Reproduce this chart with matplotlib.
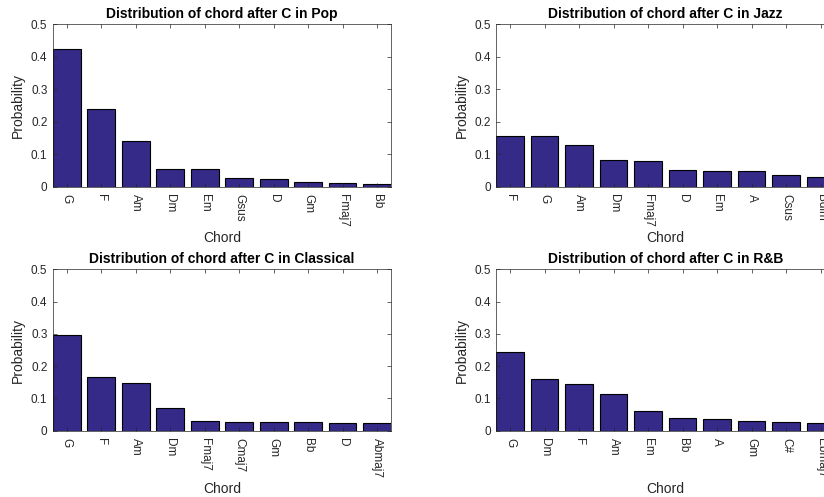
import numpy as np
import matplotlib.pyplot as plt
from matplotlib.ticker import FuncFormatter

plt.rcParams['font.family'] = ['Liberation Sans', 'DejaVu Sans']

pop_chords = ['G', 'F', 'Am', 'Dm', 'Em', 'Gsus', 'D', 'Gm', 'Fmaj7', 'Bb']
pop_probs = [0.424, 0.238, 0.140, 0.056, 0.053, 0.028, 0.023, 0.015, 0.011, 0.009]

jazz_chords = ['F', 'G', 'Am', 'Dm', 'Fmaj7', 'D', 'Em', 'A', 'Csus', 'Bdim']
jazz_probs = [0.155, 0.155, 0.127, 0.083, 0.080, 0.051, 0.049, 0.049, 0.035, 0.029]

classical_chords = ['G', 'F', 'Am', 'Dm', 'Fmaj7', 'Cmaj7', 'Gm', 'Bb', 'D', 'Abmaj7']
classical_probs = [0.298, 0.167, 0.147, 0.069, 0.031, 0.026, 0.026, 0.026, 0.023, 0.023]

rnb_chords = ['G', 'Dm', 'F', 'Am', 'Em', 'Bb', 'A', 'Gm', 'C#', 'Ebmaj7']
rnb_probs = [0.245, 0.161, 0.145, 0.115, 0.060, 0.040, 0.037, 0.030, 0.027, 0.023]

genres = ['Pop', 'Jazz', 'Classical', 'R&B']
chords = [pop_chords, jazz_chords, classical_chords, rnb_chords]
probs = [pop_probs, jazz_probs, classical_probs, rnb_probs]

bar_color = (0.2081, 0.1663, 0.5292)
axis_color = (0.15, 0.15, 0.15)

fig = plt.figure(figsize=(8.24, 4.97), dpi=100)

# axes positions (left, bottom, width, height) in figure fractions, matlab-like subplot layout
positions = [
    [0.0643, 0.6244, 0.4102, 0.3264],
    [0.6023, 0.6244, 0.4102, 0.3264],
    [0.0643, 0.1334, 0.4102, 0.3247],
    [0.6023, 0.1334, 0.4102, 0.3247],
]

for i, genre in enumerate(genres):
    ax = fig.add_axes(positions[i])
    x = np.arange(1, len(chords[i]) + 1)
    ax.bar(x, probs[i], width=0.8, color=bar_color, edgecolor='black', linewidth=0.8)

    ax.set_xlim(0.6, 10.4)
    ax.set_ylim(0, 0.5)
    ax.set_xticks(x)
    ax.set_xticklabels(chords[i], rotation=-90, fontsize=8.5, color=axis_color)
    ax.set_yticks([0, 0.1, 0.2, 0.3, 0.4, 0.5])
    ax.yaxis.set_major_formatter(FuncFormatter(lambda v, p: '0' if v == 0 else f'{v:g}'))

    ax.tick_params(direction='in', length=3, width=0.5, top=True, right=True,
                   colors=axis_color, labelsize=8.5)
    ax.tick_params(axis='x', pad=5)
    ax.tick_params(axis='y', pad=4)
    for s in ax.spines.values():
        s.set_linewidth(0.5)
        s.set_color(axis_color)

    ax.set_title(f'Distribution of chord after C in {genre}', fontsize=10,
                 fontweight='bold', pad=4.5)
    ax.set_xlabel('Chord', fontsize=10, color=axis_color, labelpad=3)
    ax.set_ylabel('Probability', fontsize=10, color=axis_color, labelpad=4)

fig.savefig('out.png', dpi=100)
